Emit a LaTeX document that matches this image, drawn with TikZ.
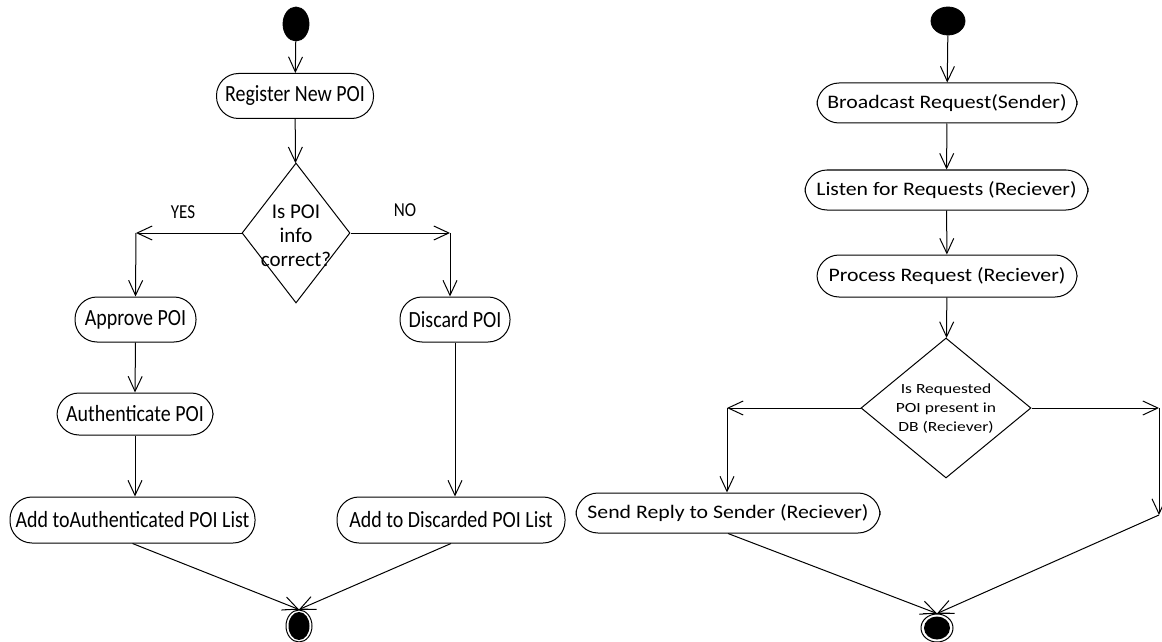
\documentclass[tikz,border=0pt]{standalone}
\usepackage{fontspec}
\usetikzlibrary{arrows.meta,shapes.geometric}
\newfontfamily\lf[FakeStretch=0.86]{Carlito}
\newfontfamily\ldf[FakeStretch=1.0]{Carlito}
\newfontfamily\rf[FakeStretch=1.14]{Carlito}
\newfontfamily\rdf[FakeStretch=1.25]{Carlito}
\tikzset{
  act/.style={draw, line width=0.5pt, rectangle, rounded corners=11pt, inner sep=0pt},
  lact/.style={act, font=\fontsize{11.6}{14}\lf},
  ract/.style={act, font=\fontsize{9.55}{12}\rf},
  dec/.style={draw, line width=0.5pt, diamond, inner sep=0pt},
  startnode/.style={ellipse, fill=black, draw=black, inner sep=0pt},
  endout/.style={ellipse, draw=black, line width=0.5pt, fill=white, inner sep=0pt},
  endin/.style={ellipse, fill=black, inner sep=0pt},
  flow/.style={line width=0.5pt, -{Straight Barb[length=7.5pt,width=7pt,line width=0.5pt]}},
  plain/.style={line width=0.5pt},
  guard/.style={font=\fontsize{9.9}{12}\lf, inner sep=0pt},
}
\begin{document}
\begin{tikzpicture}[x=0.5pt,y=-0.5pt]
\useasboundingbox (0,0) rectangle (1162,642);
% ---------- left diagram ----------
\node[startnode, minimum width=13pt, minimum height=17pt] (s1) at (296,24) {};
\node[lact, minimum width=78.5pt, minimum height=22.5pt] (reg) at (295,96) {Register New POI};
\node[dec, minimum width=54pt, minimum height=70pt] (d1) at (296,233) {};
\node[font=\fontsize{10.5}{12}\ldf, align=center, inner sep=0pt] (d1t) at (296,236) {Is POI\\info\\correct?};
\node[guard] (yes) at (183,212) {YES};
\node[guard] (no) at (405,210) {NO};
\coordinate (c1) at (136,233);
\coordinate (c2) at (450,233);
\node[lact, minimum width=60.5pt, minimum height=22.5pt] (app) at (135.5,319.5) {Approve POI};
\node[lact, minimum width=55pt, minimum height=22.5pt] (dis) at (455,319.5) {Discard POI};
\node[lact, minimum width=78pt, minimum height=21pt] (auth) at (135,414) {Authenticate POI};
\node[lact, minimum width=122.5pt, minimum height=23pt] (addA) at (132.5,520) {Add toAuthenticated POI List};
\node[lact, minimum width=114pt, minimum height=23pt] (addD) at (451,520) {Add to Discarded POI List};
\node[endout, minimum width=13pt, minimum height=16pt] (e1) at (299,626) {};
\node[endin, minimum width=10.5pt, minimum height=14pt] (e1i) at (299,626) {};

\draw[flow] (s1) -- (reg);
\draw[flow] (reg) -- (d1);
\draw[flow] (d1.west) -- (c1);
\draw[flow] (c1) -- (app.north);
\draw[flow] (d1.east) -- (c2);
\draw[flow] (c2) -- (dis.north -| c2);
\draw[flow] (app.south) -- (auth.north);
\draw[flow] (auth.south) -- (addA.north -| auth.south);
\draw[flow] (dis.south) -- (addD.north -| dis.south);
\draw[flow] (addA.south) -- (e1.north);
\draw[flow] (addD.south) -- (e1.north);
\draw[plain] ([xshift=-7pt]e1.north) -- ([xshift=7pt]e1.north);

% ---------- right diagram ----------
\node[startnode, minimum width=17pt, minimum height=14pt] (s2) at (948,21) {};
\node[ract, minimum width=130pt, minimum height=20pt] (bc) at (947,103) {Broadcast Request(Sender)};
\node[ract, minimum width=141.5pt, minimum height=20pt] (li) at (946.5,190) {Listen for Requests (Reciever)};
\node[ract, minimum width=130pt, minimum height=21pt] (pr) at (947,276) {Process Request (Reciever)};
\node[dec, minimum width=85pt, minimum height=70pt] (d2) at (946,408) {};
\node[font=\fontsize{7}{9.5}\rdf, align=center, inner sep=0pt] (d2t) at (946,409) {Is Requested\\POI present in\\DB (Reciever)};
\coordinate (c3) at (727,408);
\coordinate (c4) at (1159,408);
\coordinate (c5) at (1159,515);
\node[ract, minimum width=152pt, minimum height=20pt] (sr) at (728,513) {Send Reply to Sender (Reciever)};
\node[endout, minimum width=16pt, minimum height=14pt] (e2) at (937,628) {};
\node[endin, minimum width=13pt, minimum height=11.5pt] (e2i) at (937,628) {};

\draw[flow] (s2) -- (bc);
\draw[flow] (bc) -- (li);
\draw[flow] (li) -- (pr);
\draw[flow] (pr) -- (d2);
\draw[flow] (d2.west) -- (c3);
\draw[flow] (c3) -- (sr.north -| c3);
\draw[flow] (d2.east) -- (c4);
\draw[flow] (c4) -- (c5);
\draw[flow] (c5) -- (e2.north);
\draw[flow] (sr.south) -- (e2.north);
\draw[plain] ([xshift=-7pt]e2.north) -- ([xshift=7pt]e2.north);
\end{tikzpicture}
\end{document}
